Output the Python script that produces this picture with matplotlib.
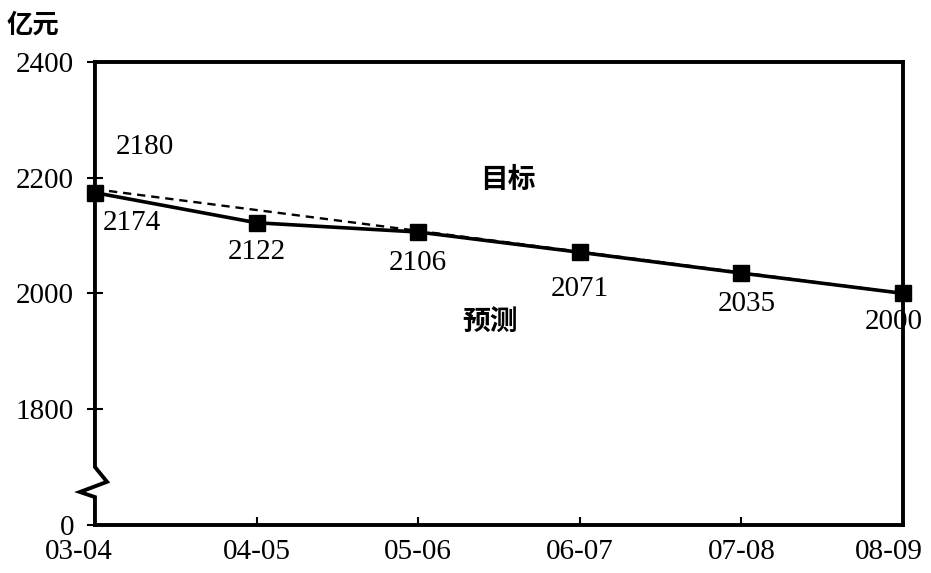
import matplotlib
matplotlib.use("Agg")
import matplotlib.pyplot as plt

# data
years = ["03-04", "04-05", "05-06", "06-07", "07-08", "08-09"]
forecast = [2174, 2122, 2106, 2071, 2035, 2000]      # 预测
target_x = [0, 5]                                     # 目标: straight line between endpoints
target_y = [2180, 2000]
y_ticks = [1600, 1800, 2000, 2200, 2400]
y_tick_labels = ["0", "1800", "2000", "2200", "2400"]  # axis is broken, bottom shown as 0

serif = "Liberation Serif"
cjk = ["Noto Sans CJK SC", "DejaVu Sans"]
fs = 21

fig = plt.figure(figsize=(9.31, 5.73), dpi=100)
ax = fig.add_axes([0.102, 0.084, 0.868, 0.808])

x = list(range(len(years)))
ax.plot(target_x, target_y, color="black", lw=1.7, ls=(0, (3.5, 2.5)), zorder=2)
ax.plot(x, forecast, color="black", lw=2.6, marker="s", ms=12, zorder=3, clip_on=False)

ax.set_xlim(0, 5)
ax.set_ylim(1600, 2400)
ax.set_xticks(x)
ax.set_xticklabels(years, fontfamily=serif, fontsize=fs)
ax.set_yticks(y_ticks)
ax.set_yticklabels(y_tick_labels, fontfamily=serif, fontsize=fs)
ax.tick_params(axis="y", direction="inout", length=12, width=1.5, pad=9)
ax.tick_params(axis="x", direction="in", length=6, width=1.5, pad=10)
# end labels sit a little inward in the original
lbls = ax.get_xticklabels()
lbls[0].set_x(-0.1)
lbls[0].set_horizontalalignment("center")
for lab, shift in [(lbls[0], -16), (lbls[-1], -14)]:
    lab.set_transform(lab.get_transform() + matplotlib.transforms.ScaledTranslation(shift / 100, 0, fig.dpi_scale_trans))

for s in ["top", "right", "bottom"]:
    ax.spines[s].set_linewidth(2.8)
ax.spines["left"].set_visible(False)

# left spine with zigzag break
bx = [0, 0, 0.0149, -0.0186, 0, 0]
by = [1, 0.125, 0.093, 0.071, 0.060, 0]
ax.plot(bx, by, color="black", lw=2.8, transform=ax.transAxes, clip_on=False, zorder=5,
        solid_joinstyle="miter")

# value labels (offsets in pixels)
ax.annotate("2180", (0, target_y[0]), xytext=(50, 42), textcoords="offset pixels",
            ha="center", va="center", fontfamily=serif, fontsize=fs)
ax.annotate("2174", (0, forecast[0]), xytext=(37, -30), textcoords="offset pixels",
            ha="center", va="center", fontfamily=serif, fontsize=fs)
offsets = {1: (0, -29), 2: (0, -31), 3: (0, -37), 4: (5, -31), 5: (-9, -29)}
for i in range(1, len(years)):
    ax.annotate(str(forecast[i]), (i, forecast[i]), xytext=offsets[i], textcoords="offset pixels",
                ha="center", va="center", fontfamily=serif, fontsize=fs)

ax.text(2.556, 2196, "目标", family=cjk, fontweight="bold", fontsize=20, ha="center", va="center")
ax.text(2.444, 1949, "预测", family=cjk, fontweight="bold", fontsize=20, ha="center", va="center")
fig.text(0.035, 0.957, "亿元", family=cjk, fontweight="bold", fontsize=19, ha="center", va="center")

fig.savefig("out.png", dpi=100)
